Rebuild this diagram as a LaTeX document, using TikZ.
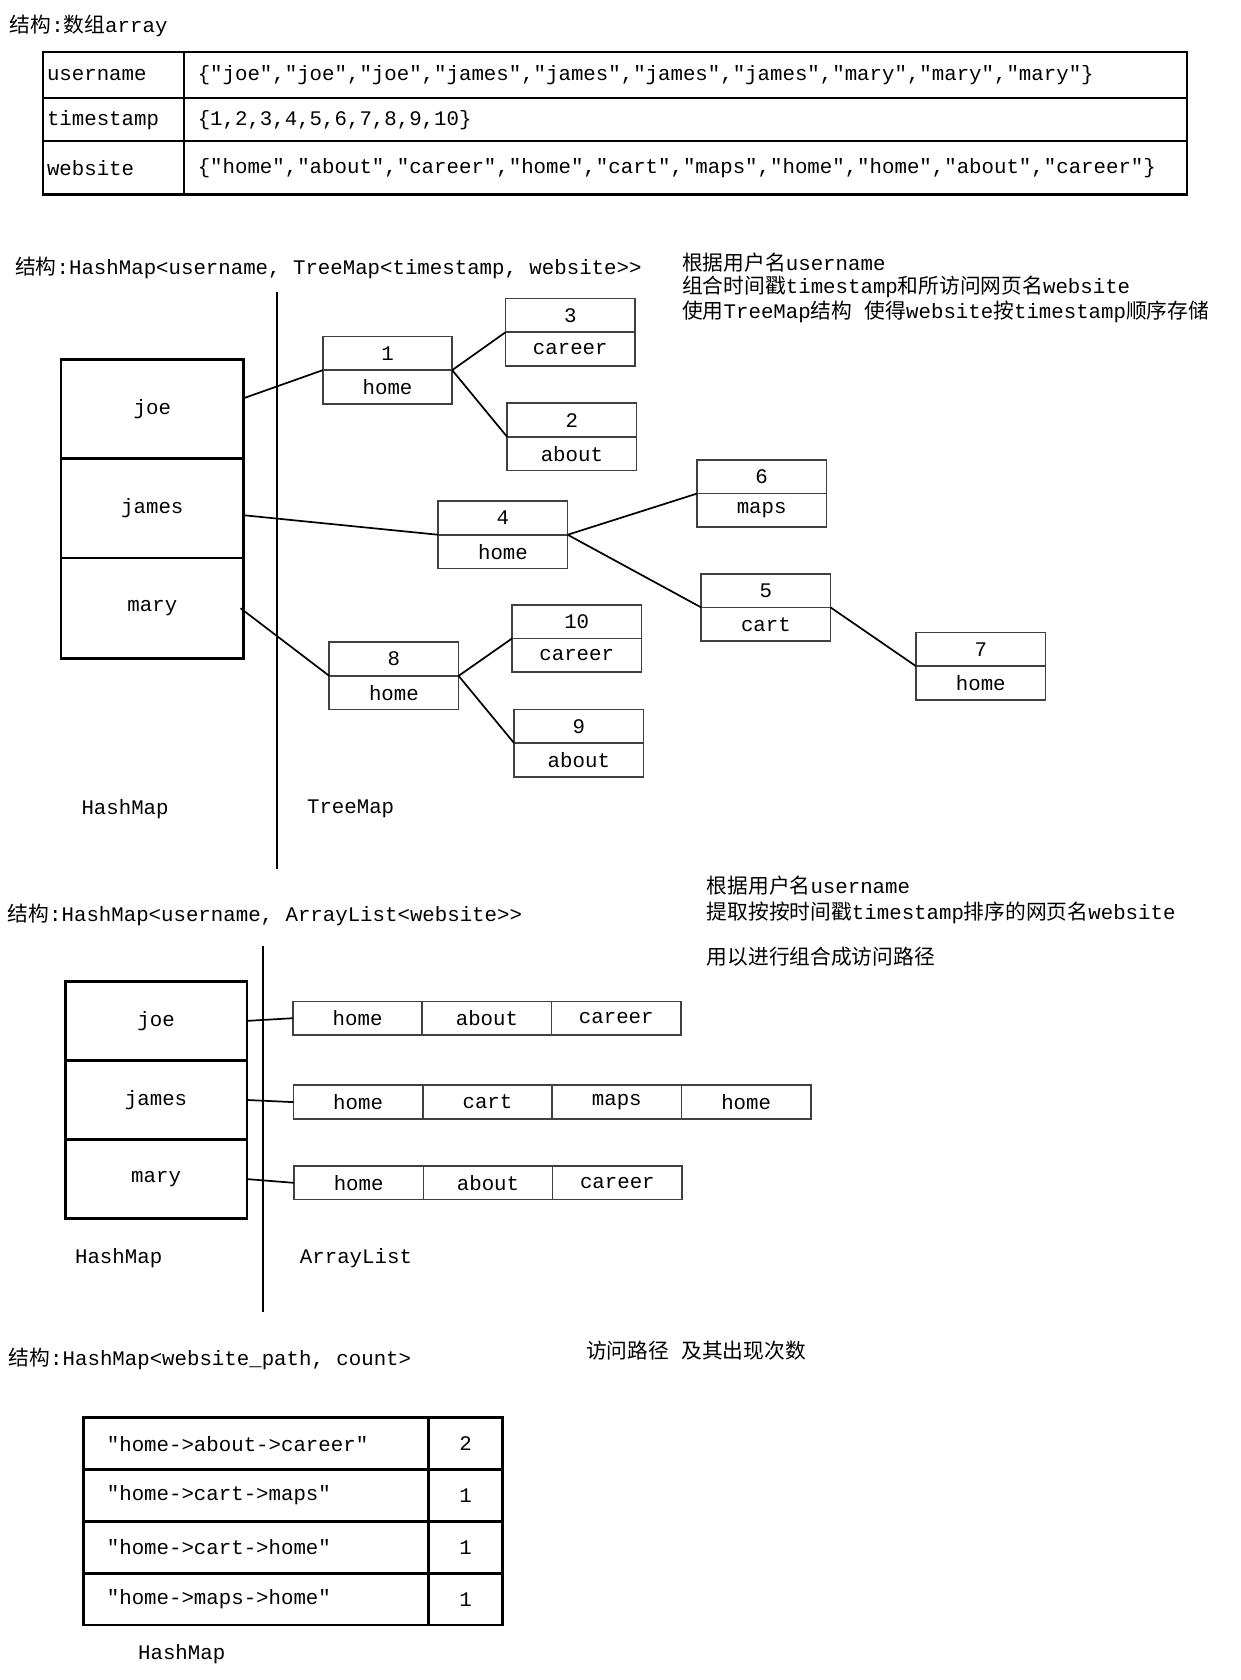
\documentclass[tikz,border=0pt]{standalone}
\usepackage{fontspec}
\setmainfont{Liberation Mono}[Ligatures=TeXOff]
\newfontfamily\zhfont{Noto Sans CJK SC}
\newcommand{\zh}[1]{{\zhfont #1}}
\usetikzlibrary{positioning}

\tikzset{
  label text/.style={anchor=base west, inner sep=0pt},
  key cell/.style={draw, line width=2pt, outer sep=0pt, inner xsep=4pt, text width=124pt, align=left},
  value cell/.style={draw, line width=2pt, outer sep=0pt, inner xsep=13pt, text width=912pt, align=left},
  bucket/.style={draw, line width=2.5pt, outer sep=0pt, minimum width=171pt},
  entry/.style={draw=black!75, line width=1.5pt, outer sep=0pt, minimum width=121pt, minimum height=31.5pt, inner sep=0pt},
  path cell/.style={draw, line width=2.5pt, outer sep=0pt, minimum height=48.5pt, inner xsep=22pt, text width=279pt, align=left},
  count cell/.style={draw, line width=2.5pt, outer sep=0pt, minimum height=48.5pt, minimum width=69pt, inner sep=0pt},
  link/.style={line width=1.6pt}
}

\begin{document}
\begin{tikzpicture}[x=1pt, y=-1pt, every node/.append style={font=\fontsize{19.4}{22.5}\selectfont}]
\path[fill=white, use as bounding box] (0,0) rectangle (1160,1571.6);

% array
\node[label text] (arraytitle) at (9,30) {\zh{结构}:\zh{数组}array};
\node[key cell, minimum height=43pt] (kuser) at (106,70.5) {username};
\node[value cell, minimum height=43pt, right=0pt of kuser] (vuser) {\{"joe","joe","joe","james","james","james","james","mary","mary","mary"\}};
\node[key cell, minimum height=40pt, below=0pt of kuser] (ktime) {timestamp};
\node[value cell, minimum height=40pt, right=0pt of ktime] (vtime) {\{1,2,3,4,5,6,7,8,9,10\}};
\node[key cell, minimum height=50pt, below=0pt of ktime] (ksite) {website};
\node[value cell, minimum height=50pt, right=0pt of ksite] (vsite) {\{"home","about","career","home","cart","maps","home","home","about","career"\}};

% HashMap of TreeMap
\node[label text] (treetitle) at (14,257) {\zh{结构}:HashMap<username, TreeMap<timestamp, website>>};
\node[label text] (treenote1) at (638,253) {\zh{根据用户名}username};
\node[label text] (treenote2) at (638,275) {\zh{组合时间戳}timestamp\zh{和所访问网页名}website};
\node[label text] (treenote3) at (638,298) {\zh{使用}TreeMap\zh{结构} \zh{使得}website\zh{按}timestamp\zh{顺序存储}};
\coordinate (treetop) at (259,273);
\coordinate (treebottom) at (259,813);
\draw[line width=2pt] (treetop) -- (treebottom);
\node[bucket, minimum height=93pt] (joe) at (142.5,382.5) {joe};
\node[bucket, minimum height=93pt, below=0pt of joe] (james) {james};
\node[bucket, minimum height=94pt, below=0pt of james] (mary) {mary};
\node[entry] (t1) at (362.5,330.5) {1};
\node[entry, below=0pt of t1] (w1) {home};
\node[entry] (t3) at (533.5,295) {3};
\node[entry, below=0pt of t3] (w3) {career};
\node[entry] (t2) at (535,393) {2};
\node[entry, below=0pt of t2] (w2) {about};
\node[entry] (t4) at (470.5,484.5) {4};
\node[entry, below=0pt of t4] (w4) {home};
\node[entry] (t6) at (712.5,446) {6};
\node[entry, below=0pt of t6] (w6) {maps};
\node[entry] (t5) at (716.5,552.5) {5};
\node[entry, below=0pt of t5] (w5) {cart};
\node[entry] (t7) at (917.5,607.5) {7};
\node[entry, below=0pt of t7] (w7) {home};
\node[entry] (t10) at (539.5,581.5) {10};
\node[entry, below=0pt of t10] (w10) {career};
\node[entry] (t8) at (368.5,616.5) {8};
\node[entry, below=0pt of t8] (w8) {home};
\node[entry] (t9) at (541.5,679.5) {9};
\node[entry, below=0pt of t9] (w9) {about};
\draw[link]
  ([yshift=10pt]joe.east) -- (t1.south west)
  (t1.south east) -- (t3.south west)
  (t1.south east) -- (t2.south west)
  ([yshift=-6.5pt]james.east) -- (t4.south west)
  (t4.south east) -- (t6.south west)
  (t4.south east) -- (t5.south west)
  (t5.south east) -- (t7.south west)
  ([xshift=-3pt]mary.east) -- (t8.south west)
  (t8.south east) -- (t10.south west)
  (t8.south east) -- (t9.south west);
\node (treehash) at (117,757) {HashMap};
\node (treemap) at (328,757) {TreeMap};

% HashMap of ArrayList
\node[label text] (listtitle) at (7,862) {\zh{结构}:HashMap<username, ArrayList<website>>};
\node[label text] (listnote1) at (661,836) {\zh{根据用户名}username};
\node[label text] (listnote2) at (661,860) {\zh{提取按按时间戳}timestamp\zh{排序的网页名}website};
\node[label text] (listnote3) at (661,902) {\zh{用以进行组合成访问路径}};
\coordinate (listtop) at (246,885);
\coordinate (listbottom) at (246,1227);
\draw[line width=2pt] (listtop) -- (listbottom);
\node[bucket, minimum height=74pt, minimum width=170pt] (joe2) at (146,955) {joe};
\node[bucket, minimum height=74pt, minimum width=170pt, below=0pt of joe2] (james2) {james};
\node[bucket, minimum height=74pt, minimum width=170pt, below=0pt of james2] (mary2) {mary};
\node[entry] (a1) at (334.5,952.5) {home};
\node[entry, right=0pt of a1] (a2) {about};
\node[entry, right=0pt of a2] (a3) {career};
\node[entry] (b1) at (335,1031) {home};
\node[entry, right=0pt of b1] (b2) {cart};
\node[entry, right=0pt of b2] (b3) {maps};
\node[entry, right=0pt of b3] (b4) {home};
\node[entry] (c1) at (335.5,1106.5) {home};
\node[entry, right=0pt of c1] (c2) {about};
\node[entry, right=0pt of c2] (c3) {career};
\draw[link]
  (joe2.east) -- (a1.west)
  (james2.east) -- (b1.west)
  (mary2.east) -- (c1.west);
\node (listhash) at (111,1177) {HashMap};
\node (listarray) at (333,1177) {ArrayList};

% HashMap of paths
\node[label text] (pathtitle) at (8,1277) {\zh{结构}:HashMap<website\_path, count>};
\node[label text] (pathnote) at (548,1271) {\zh{访问路径} \zh{及其出现次数}};
\node[path cell] (p1) at (239.5,1350.5) {"home->about->career"};
\node[count cell, right=0pt of p1] (n1) {2};
\node[path cell, below=0pt of p1] (p2) {"home->cart->maps"};
\node[count cell, right=0pt of p2] (n2) {1};
\node[path cell, below=0pt of p2] (p3) {"home->cart->home"};
\node[count cell, right=0pt of p3] (n3) {1};
\node[path cell, below=0pt of p3] (p4) {"home->maps->home"};
\node[count cell, right=0pt of p4] (n4) {1};
\node (pathhash) at (170,1547) {HashMap};
\end{tikzpicture}
\end{document}
